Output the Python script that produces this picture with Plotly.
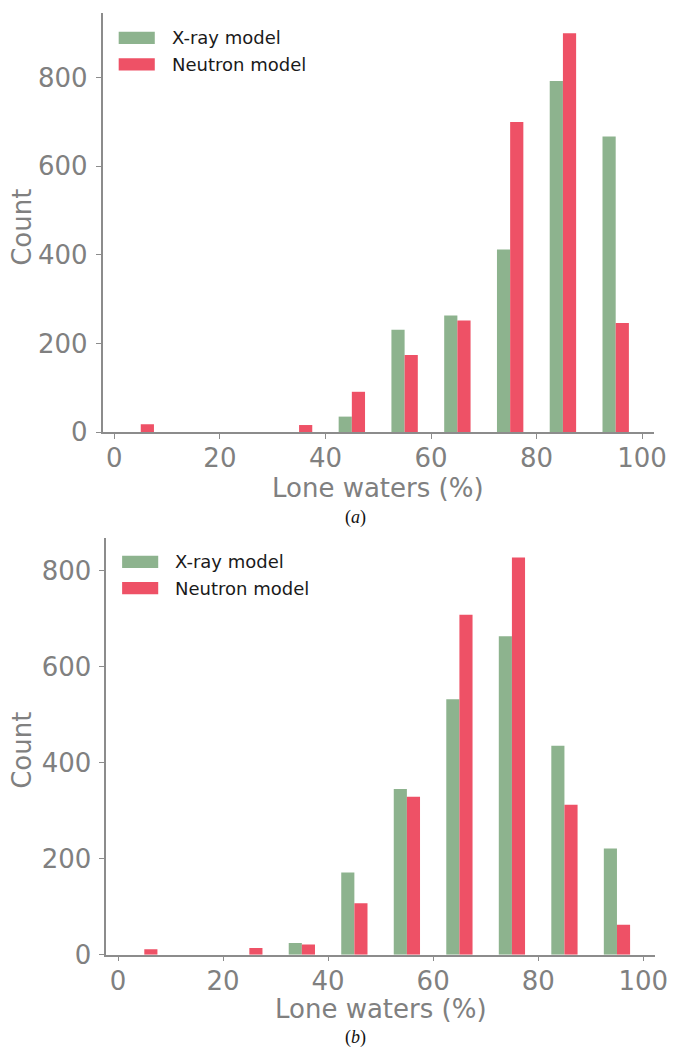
import plotly.graph_objects as go

W, H = 680, 1064

# Histogram bins (10 % wide), bars placed at the bin centres
bin_centres = [5, 15, 25, 35, 45, 55, 65, 75, 85, 95]

# Panel (a)
xray_a = [0, 0, 0, 0, 35, 231, 263, 412, 792, 667]
neutron_a = [18, 0, 0, 16, 91, 174, 252, 700, 900, 246]

# Panel (b)
xray_b = [0, 0, 0, 24, 171, 345, 532, 663, 435, 221]
neutron_b = [11, 0, 14, 21, 107, 329, 708, 827, 312, 62]

x_ticks = [0, 20, 40, 60, 80, 100]
y_ticks = [0, 200, 400, 600, 800]
series_names = ["X-ray model", "Neutron model"]

GREEN = "#8db38e"
RED = "#ee5166"
GREY = "#808080"
AXIS = "#8c8c8c"
FONT = "DejaVu Sans"


def px_x(v):
    return v / W


def px_y(v):
    return 1 - v / H


fig = go.Figure()

panels = [
    ("x", "y", xray_a, neutron_a),
    ("x2", "y2", xray_b, neutron_b),
]
for xa, ya, xr, nt in panels:
    fig.add_trace(go.Bar(x=bin_centres, y=xr, name=series_names[0], marker_color=GREEN,
                         marker_line_width=0, offsetgroup="xray", xaxis=xa, yaxis=ya,
                         showlegend=False))
    fig.add_trace(go.Bar(x=bin_centres, y=nt, name=series_names[1], marker_color=RED,
                         marker_line_width=0, offsetgroup="neutron", xaxis=xa, yaxis=ya,
                         showlegend=False))

common_x = dict(
    range=[-2.25, 102.25], tickvals=x_ticks, showline=True, linecolor=AXIS, linewidth=1.5,
    ticks="outside", ticklen=5, tickwidth=1.3, tickcolor=AXIS, showgrid=False, zeroline=False,
    tickfont=dict(family=FONT, size=26, color=GREY), ticklabelstandoff=-3,
)
common_y = dict(
    tickvals=y_ticks, showline=True, linecolor=AXIS, linewidth=1.5,
    ticks="outside", ticklen=5, tickwidth=1.3, tickcolor=AXIS, showgrid=False, zeroline=False,
    tickfont=dict(family=FONT, size=26, color=GREY), ticklabelstandoff=3,
)

fig.update_layout(
    width=W, height=H, margin=dict(l=0, r=0, t=0, b=0),
    paper_bgcolor="white", plot_bgcolor="white",
    barmode="group", bargap=0.5, bargroupgap=0,
    xaxis=dict(common_x, domain=[px_x(104.5), px_x(666.7)], anchor="y"),
    yaxis=dict(common_y, domain=[px_y(438.3), px_y(13.5)], range=[0, 945], anchor="x"),
    xaxis2=dict(common_x, domain=[px_x(108.3), px_x(667.8)], anchor="y2"),
    yaxis2=dict(common_y, domain=[px_y(968.3), px_y(545.3)], range=[0, 868.4], anchor="x2"),
    showlegend=False,
)

# Axis titles for each panel: (x-title centre x, y), (y-title centre x, y)
axis_titles = [
    ((385.5, 494.5), (22.5, 231.0)),
    ((388.0, 1023.5), (22.5, 761.5)),
]
for (xtx, xty), (ytx, yty) in axis_titles:
    fig.add_annotation(xref="paper", yref="paper", x=px_x(xtx), y=px_y(xty),
                       xanchor="center", yanchor="middle", showarrow=False,
                       text="Lone waters (%)", font=dict(family=FONT, size=26, color=GREY))
    fig.add_annotation(xref="paper", yref="paper", x=px_x(ytx), y=px_y(yty),
                       xanchor="center", yanchor="middle", showarrow=False, textangle=-90,
                       text="Count", font=dict(family=FONT, size=26, color=GREY))

# Legend boxes drawn as patches + labels in each panel
legend_rows = [
    # (patch x0, x1, row centres, text x)
    (121.0, 157.8, [38.4, 65.3], 173.5),
    (124.5, 161.3, [569.9, 596.6], 176.5),
]
colors = [GREEN, RED]
for x0, x1, centres, tx in legend_rows:
    for name, col, cy in zip(series_names, colors, centres):
        fig.add_shape(type="rect", xref="paper", yref="paper",
                      x0=px_x(x0), x1=px_x(x1), y0=px_y(cy + 6.2), y1=px_y(cy - 6.2),
                      fillcolor=col, line_width=0)
        fig.add_annotation(xref="paper", yref="paper", x=px_x(tx), y=px_y(cy),
                           xanchor="left", yanchor="middle", showarrow=False,
                           text=name, font=dict(family=FONT, size=18, color="#1a1a1a"))

# Panel captions
for label, cy in [("(<i>a</i>)", 525), ("(<i>b</i>)", 1052)]:
    fig.add_annotation(xref="paper", yref="paper", x=px_x(362), y=px_y(cy),
                       xanchor="center", yanchor="middle", showarrow=False,
                       text=label, font=dict(family="Liberation Serif", size=18, color="#111"))

fig.write_html("out.html")
